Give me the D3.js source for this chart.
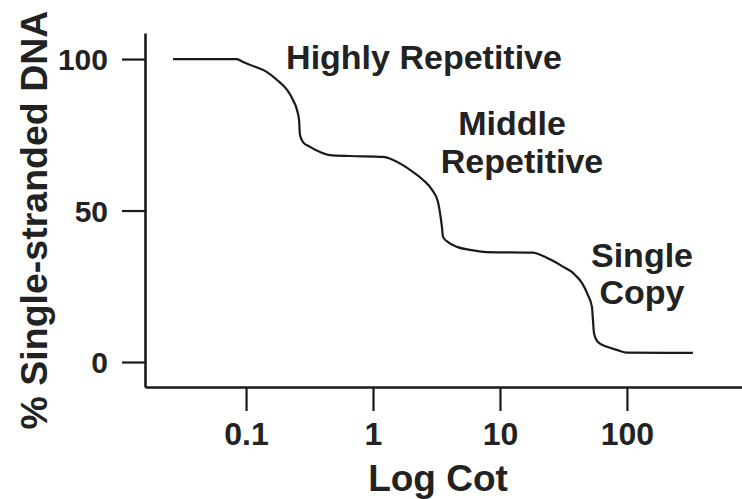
<!DOCTYPE html>
<html>
<head>
<meta charset="utf-8">
<script src="https://cdn.jsdelivr.net/npm/d3@7"></script>
<style>
  html, body { margin: 0; padding: 0; background: #fff; }
  svg { display: block; }
  text { font-family: "Liberation Sans", Arial, Helvetica, sans-serif; font-weight: bold; fill: #222; }
</style>
</head>
<body>
<svg id="chart" width="742" height="499"></svg>
<script>
// ---- Data ----
const cot = [0.0266, 0.0849, 0.0947, 0.1135, 0.1463, 0.1754, 0.2104, 0.2344, 0.252, 0.2614, 0.266, 0.281, 0.319, 0.383, 0.458, 0.659,
             1.2, 1.44, 1.72, 2.07, 2.48, 2.92, 3.25, 3.37, 3.49, 3.56, 3.90, 4.59, 5.80, 7.9,
             18.2, 21.8, 26.1, 31.3, 37.6, 44.2, 49.3, 53, 54, 55, 59.1, 69.6, 83.4, 100, 331];
const pctSingle = [100, 100, 99, 97.7, 95.7, 93.1, 89.8, 86.5, 83.2, 79.9, 74.9, 72.6, 71, 69.3, 68.3, 68,
             67.7, 66.7, 65, 62.7, 60.1, 56.8, 52.8, 49.2, 44.6, 41.3, 39.6, 38, 37, 36.3,
             36.1, 35, 33.4, 31.5, 29.4, 26.1, 22.1, 18.2, 13.9, 9.6, 6.6, 5, 4, 3.1, 3];
const xTicks = [0.1, 1, 10, 100];
const xTickLabels = ["0.1", "1", "10", "100"];
const yTicks = [0, 50, 100];
const yTickLabels = ["0", "50", "100"];
const labels = [
  { text: "Highly Repetitive", cx: 424, y: 69 },
  { text: "Middle", cx: 512, y: 135 },
  { text: "Repetitive", cx: 522, y: 173 },
  { text: "Single", cx: 642, y: 267 },
  { text: "Copy", cx: 642, y: 304 }
];

// ---- Chart ----
const svg = d3.select("#chart");
const ink = "#1a1a1a";

const x = d3.scaleLog().domain([0.016, 806]).range([145, 742]);
const y = d3.scaleLinear().domain([-8.25, 108.6]).range([387, 33]);

// X axis
const gx = svg.append("g").attr("transform", `translate(0,${y.range()[0]})`)
  .call(d3.axisBottom(x).tickValues(xTicks).tickFormat((d, i) => xTickLabels[i])
        .tickSizeInner(24).tickSizeOuter(0).tickPadding(11));
gx.select(".domain").attr("stroke", ink).attr("stroke-width", 2.6);
gx.selectAll(".tick line").attr("stroke", ink).attr("stroke-width", 2.2);
gx.selectAll(".tick text").attr("font-size", 32).attr("fill", "#222")
  .attr("font-family", "Liberation Sans, Arial, sans-serif").attr("font-weight", "bold");

// Y axis
const gy = svg.append("g").attr("transform", `translate(${x.range()[0]},0)`)
  .call(d3.axisLeft(y).tickValues(yTicks).tickFormat((d, i) => yTickLabels[i])
        .tickSizeInner(23).tickSizeOuter(0).tickPadding(14));
gy.select(".domain").attr("stroke", ink).attr("stroke-width", 2.6);
gy.selectAll(".tick line").attr("stroke", ink).attr("stroke-width", 2.2);
gy.selectAll(".tick text").attr("font-size", 30).attr("dy", "0.36em").attr("fill", "#222")
  .attr("font-family", "Liberation Sans, Arial, sans-serif").attr("font-weight", "bold");

// Curve
const pts = cot.map((c, i) => [c, pctSingle[i]]);
const line = d3.line().x(d => x(d[0])).y(d => y(d[1])).curve(d3.curveMonotoneX);
svg.append("path").attr("d", line(pts)).attr("fill", "none")
  .attr("stroke", ink).attr("stroke-width", 2.2);

// Axis titles
svg.append("text").attr("x", 438).attr("y", 491).attr("text-anchor", "middle")
  .attr("font-size", 37).text("Log Cot");
svg.append("text").attr("transform", "translate(47,220) rotate(-90)").attr("text-anchor", "middle")
  .attr("font-size", 37.5).text("% Single-stranded DNA");

// Annotations
labels.forEach(l => {
  svg.append("text").attr("x", l.cx).attr("y", l.y).attr("text-anchor", "middle")
    .attr("font-size", 34).text(l.text);
});
</script>
</body>
</html>
